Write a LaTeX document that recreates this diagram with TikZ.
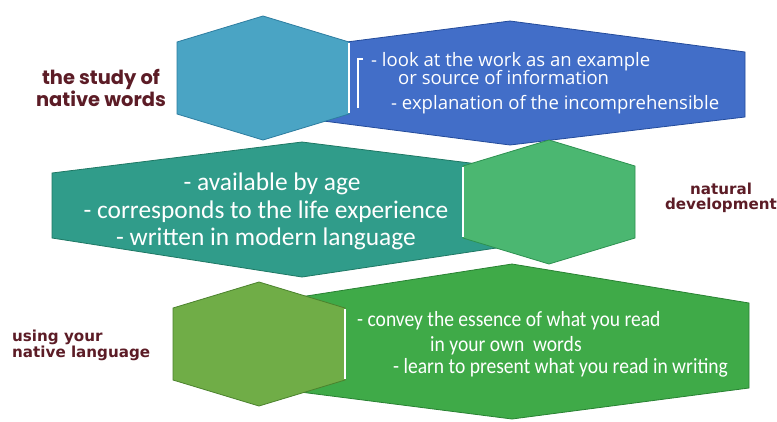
\documentclass[tikz,border=0pt]{standalone}
\usepackage{fontspec}
\setmainfont{Carlito}
\newfontfamily\bluefont{Open Sans}
\newfontfamily\greenfont[FakeStretch=0.9]{Carlito}
\newfontfamily\labfont{Poppins}
\newfontfamily\labfontb{DejaVu Sans}
\definecolor{cyanhex}{RGB}{74,164,196}
\definecolor{cyanedge}{RGB}{45,125,160}
\definecolor{bluehex}{RGB}{66,110,200}
\definecolor{blueedge}{RGB}{35,75,155}
\definecolor{tealhex}{RGB}{48,156,138}
\definecolor{tealedge}{RGB}{30,120,100}
\definecolor{greenhex}{RGB}{75,183,113}
\definecolor{greenedge}{RGB}{45,145,80}
\definecolor{olivehex}{RGB}{112,173,71}
\definecolor{oliveedge}{RGB}{75,130,45}
\definecolor{bighex}{RGB}{63,170,72}
\definecolor{bigedge}{RGB}{40,130,50}
\definecolor{labred}{RGB}{92,28,38}
\newcommand\hexshape[3]{%
  \filldraw[#3] (#1,{#2-62}) -- ({#1+86},{#2-36}) -- ({#1+86},{#2+36}) -- (#1,{#2+62})
    -- ({#1-86},{#2+36}) -- ({#1-86},{#2-36}) -- cycle;}
\tikzset{
  shapeline/.style={line width=0.8pt, line join=miter},
  bluetxt/.style={inner sep=0pt, text=white, font=\bluefont\fontsize{18.6}{21}\selectfont},
  tealtxt/.style={inner sep=0pt, text=white, font=\fontsize{25.5}{29}\selectfont},
  greentxt/.style={inner sep=0pt, text=white, font=\greenfont\fontsize{21.8}{25}\selectfont},
  lab/.style={inner sep=0pt, text=labred, align=center, font=\labfont\bfseries\fontsize{19.5}{17.5}\selectfont},
  labb/.style={inner sep=0pt, text=labred, font=\labfontb\bfseries\fontsize{15.2}{14.5}\selectfont},
  whiteedge/.style={white, line width=1.2pt}
}
\begin{document}
\begin{tikzpicture}[x=1bp, y=-1bp]
\useasboundingbox (0,0) rectangle (777,421);
\fill[white] (0,0) rectangle (777,421);
% big shapes
\filldraw[shapeline, fill=tealhex, draw=tealedge]
  (302,142) -- (550,173) -- (550,240) -- (302,277) -- (52,238) -- (52,173) -- cycle;
\filldraw[shapeline, fill=bluehex, draw=blueedge]
  (510,21) -- (745,52) -- (745,117) -- (510,145) -- (300,118) -- (300,48) -- cycle;
\filldraw[shapeline, fill=bighex, draw=bigedge]
  (512,264) -- (749,303) -- (749,388) -- (512,419) -- (300,392) -- (300,297) -- cycle;
% small hexagons
\hexshape{263}{78}{shapeline, fill=cyanhex, draw=cyanedge}
\draw[whiteedge] (349,43) -- (349,113);
\hexshape{549}{202}{shapeline, fill=greenhex, draw=greenedge}
\draw[whiteedge] (463,167) -- (463,237);
\hexshape{259}{344}{shapeline, fill=olivehex, draw=oliveedge}
\draw[whiteedge] (345,309) -- (345,379);
% blue texts
\draw[white, line width=1.5pt] (358,108) -- (358,59) -- (363,59);
\node[bluetxt, anchor=base west] (b1) at (371,66) {- look at the work as an example};
\node[bluetxt, anchor=base west] (b2) at (398,84) {or source of information};
\node[bluetxt, anchor=base west] (b3) at (391,109) {- explanation of the incomprehensible};
% teal texts
\node[tealtxt, anchor=base] (t1) at (272,190) {- available by age};
\node[tealtxt, anchor=base] (t2) at (266,218) {- corresponds to the life experience};
\node[tealtxt, anchor=base] (t3) at (266,245) {- written in modern language};
% green texts
\node[greentxt, anchor=base west] (g1) at (357,326) {- convey the essence of what you read};
\node[greentxt, anchor=base west] (g2) at (430,351) {in your own\ \ words};
\node[greentxt, anchor=base west] (g3) at (393,373) {- learn to present what you read in writing};
% labels
\node[lab] (l1) at (101,88) {the study of\\native words};
\node[labb, align=center] (l2) at (721,198) {natural\\development};
\node[labb, align=left, anchor=west] (l3) at (12,345) {using your\\native language};
\end{tikzpicture}
\end{document}
